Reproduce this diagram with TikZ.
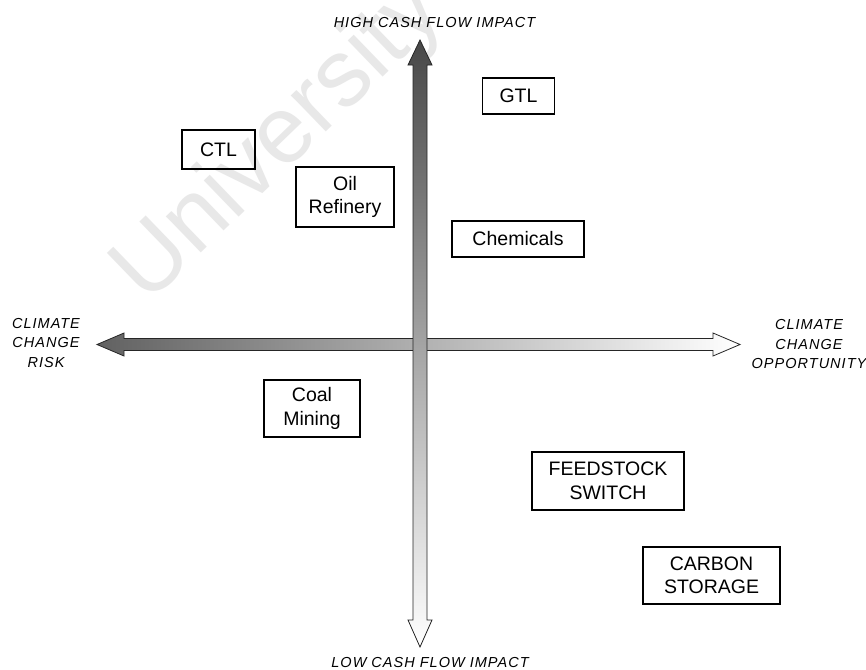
\documentclass[tikz,border=0pt]{standalone}
\usepackage{fontspec}
\setmainfont{Liberation Sans}
\newfontfamily\labfam[LetterSpace=7]{Liberation Sans}
\newcommand{\boxfont}{\fontsize{19.5}{23.5}\selectfont}
\newcommand{\axfont}{\labfam\itshape\fontsize{14.5}{19.5}\selectfont}
\newcommand{\wmfont}{\fontsize{95}{95}\selectfont}
\begin{document}
\begin{tikzpicture}[x=1pt,y=-1pt,
  box/.style={draw=black, line width=1.5pt, inner sep=0pt, align=center, font=\boxfont},
  axlabel/.style={align=center, font=\axfont, text=black, inner sep=0pt},
  axisline/.style={draw=black!85, line width=0.8pt}]
\useasboundingbox (0,0) rectangle (866,669);
\fill[white] (0,0) rectangle (866,669);
% watermark
\node[rotate=44, text=black!9, font=\wmfont, inner sep=0pt] (wm) at (280,143) {University};
% horizontal axis
\coordinate (L) at (97,344.5);
\coordinate (R) at (740,344.5);
\path[left color=black!62, middle color=black!25, right color=white, axisline]
  (L) -- ++(27,-11.5) -- ++(0,5.5) -- (713,338.5) -- (713,333) -- (R)
  -- (713,356) -- (713,350.5) -- (124,350.5) -- (124,356) -- cycle;
% vertical axis
\coordinate (T) at (420,40);
\coordinate (B) at (420,647);
\path[top color=black!72, middle color=black!22, bottom color=white, axisline]
  (T) -- ++(12,25) -- ++(-5,0) -- (427,620) -- (432,620) -- (B)
  -- (408,620) -- (413,620) -- (413,65) -- (408,65) -- cycle;
% axis labels
\node[axlabel] (hi) at (434.5,23) {HIGH CASH FLOW IMPACT};
\node[axlabel] (lo) at (430,662) {LOW CASH FLOW IMPACT};
\node[axlabel] (risk) at (46,343) {CLIMATE\\CHANGE\\RISK};
\node[axlabel] (opp) at (809,344.5) {CLIMATE\\CHANGE\\OPPORTUNITY};
% boxes
\node[box, minimum width=72pt, minimum height=36pt] (gtl) at (518.5,96) {GTL};
\node[box, minimum width=73pt, minimum height=39pt] (ctl) at (218.5,149.5) {CTL};
\node[box, minimum width=98pt, minimum height=60pt] (oil) at (345,197) {Oil\\Refinery};
\node[box, minimum width=132pt, minimum height=36pt] (chem) at (518,239) {Chemicals};
\node[box, minimum width=96pt, minimum height=57pt] (coal) at (312,408.5) {Coal\\Mining};
\node[box, minimum width=152pt, minimum height=58pt] (feed) at (608,481) {FEEDSTOCK\\SWITCH};
\node[box, minimum width=137pt, minimum height=57pt] (carb) at (711.5,575.5) {CARBON\\STORAGE};
\end{tikzpicture}
\end{document}
